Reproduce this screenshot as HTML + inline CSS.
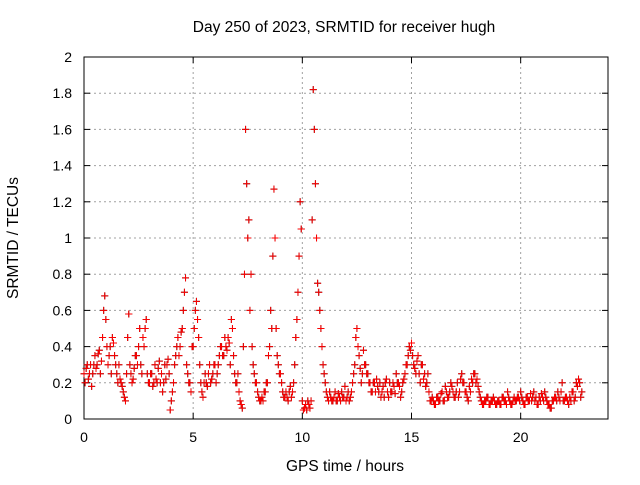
<!DOCTYPE html>
<html><head><meta charset="utf-8"><style>
body{margin:0;background:#fff;}
svg text{font-family:"Liberation Sans",sans-serif;font-size:14px;fill:#000;}
svg text.big{font-size:15.5px;}
</style></head><body>
<svg id="chart" width="640" height="480">
<g id="grid"></g>
<g id="axes"></g>
<g id="marks"></g>
<text class="big" x="344" y="32" text-anchor="middle">Day 250 of 2023, SRMTID for receiver hugh</text>
<text class="big" x="345" y="471" text-anchor="middle">GPS time / hours</text>
<text class="big" x="18" y="238" text-anchor="middle" transform="rotate(-90 18 238)">SRMTID / TECUs</text>
</svg>
<script>
const xTicks=[0,5,10,15,20];
const yTicks=[0,0.2,0.4,0.6,0.8,1,1.2,1.4,1.6,1.8,2];
const yTickLabels=["0","0.2","0.4","0.6","0.8","1","1.2","1.4","1.6","1.8","2"];
const tStart=0, tStep=0.1, tStart2=0.05;
const values=[
0.25,0.28,0.22,0.3,0.25,0.35,0.3,0.38,0.32,0.6,
0.55,0.3,0.4,0.45,0.35,0.25,0.3,0.2,0.15,0.1,
0.45,0.3,0.2,0.28,0.35,0.4,0.3,0.45,0.5,0.25,
0.2,0.25,0.2,0.22,0.28,0.2,0.15,0.3,0.3,0.25,
0.1,0.2,0.35,0.45,0.4,0.5,0.7,0.3,0.2,0.15,
0.4,0.6,0.55,0.3,0.15,0.2,0.2,0.25,0.2,0.25,
0.3,0.25,0.35,0.4,0.35,0.4,0.45,0.3,0.5,0.25,
0.2,0.15,0.08,0.4,1.6,1.0,0.6,0.4,0.25,0.2,
0.12,0.1,0.1,0.15,0.2,0.4,0.5,1.27,0.5,0.3,
0.25,0.15,0.12,0.12,0.15,0.12,0.2,0.45,0.7,1.2,
0.1,0.06,0.05,0.08,0.1,1.82,1.3,0.75,0.6,0.4,
0.25,0.15,0.1,0.12,0.1,0.15,0.1,0.12,0.15,0.12,
0.1,0.15,0.12,0.2,0.3,0.5,0.35,0.2,0.38,0.3,
0.25,0.2,0.15,0.2,0.22,0.15,0.12,0.18,0.2,0.15,
0.2,0.15,0.18,0.25,0.2,0.12,0.2,0.25,0.3,0.4,
0.42,0.3,0.25,0.35,0.2,0.3,0.25,0.2,0.15,0.1,
0.1,0.08,0.12,0.1,0.15,0.1,0.15,0.12,0.2,0.15,
0.12,0.2,0.15,0.25,0.2,0.15,0.1,0.15,0.2,0.25,
0.22,0.15,0.1,0.08,0.1,0.12,0.08,0.1,0.1,0.08,
0.1,0.08,0.12,0.1,0.15,0.1,0.08,0.12,0.1,0.12,
0.15,0.1,0.08,0.12,0.1,0.1,0.15,0.12,0.08,0.1,
0.12,0.15,0.1,0.08,0.06,0.1,0.12,0.15,0.1,0.2,
0.1,0.12,0.08,0.1,0.15,0.12,0.18,0.2,0.15];
const values2=[
0.2,0.3,0.25,0.18,0.3,0.28,0.36,0.25,0.45,0.68,
0.4,0.35,0.25,0.42,0.3,0.2,0.22,0.18,0.12,0.25,
0.58,0.25,0.22,0.35,0.3,0.5,0.25,0.4,0.55,0.2,
0.25,0.18,0.3,0.2,0.32,0.25,0.2,0.22,0.33,0.05,
0.15,0.3,0.4,0.35,0.48,0.6,0.78,0.25,0.2,0.4,
0.5,0.65,0.45,0.2,0.12,0.25,0.18,0.3,0.22,0.3,
0.2,0.3,0.4,0.35,0.45,0.38,0.42,0.55,0.35,0.2,
0.25,0.1,0.06,0.8,1.3,1.1,0.8,0.3,0.2,0.15,
0.1,0.12,0.15,0.2,0.35,0.6,0.9,1.0,0.35,0.25,
0.2,0.12,0.15,0.1,0.18,0.15,0.3,0.55,0.9,1.05,
0.05,0.08,0.1,0.06,1.1,1.6,1.0,0.7,0.5,0.3,
0.2,0.12,0.15,0.1,0.12,0.1,0.14,0.1,0.12,0.18,
0.12,0.1,0.15,0.25,0.45,0.4,0.28,0.25,0.3,0.25,
0.2,0.15,0.2,0.15,0.18,0.2,0.15,0.12,0.22,0.12,
0.15,0.2,0.14,0.2,0.18,0.15,0.22,0.3,0.35,0.38,
0.35,0.28,0.32,0.25,0.3,0.22,0.18,0.25,0.1,0.12,
0.08,0.12,0.1,0.14,0.1,0.18,0.12,0.15,0.18,0.12,
0.15,0.12,0.22,0.2,0.15,0.12,0.18,0.22,0.25,0.2,
0.18,0.12,0.08,0.1,0.12,0.08,0.1,0.12,0.08,0.1,
0.08,0.12,0.1,0.08,0.12,0.08,0.1,0.1,0.12,0.1,
0.12,0.08,0.12,0.1,0.14,0.12,0.1,0.08,0.12,0.14,
0.1,0.12,0.08,0.06,0.1,0.12,0.1,0.12,0.15,0.1,
0.12,0.1,0.12,0.15,0.1,0.2,0.22,0.12];
const L=84,R=608,T=57,B=419,xMax=24,yMax=2;
const sx=v=>L+v/xMax*(R-L), sy=v=>B-v/yMax*(B-T);
const NS="http://www.w3.org/2000/svg";
function mk(tag,attrs,parent){const e=document.createElementNS(NS,tag);for(const k in attrs)e.setAttribute(k,attrs[k]);parent.appendChild(e);return e;}
const grid=document.getElementById('grid'),axes=document.getElementById('axes'),marks=document.getElementById('marks');
xTicks.forEach(t=>{const x=sx(t);
 if(t>0){const g=mk('line',{x1:x,x2:x,y1:T,y2:B,stroke:'#a0a0a0','stroke-dasharray':'2,3'},grid);
 
 }
 mk('line',{x1:x,x2:x,y1:B,y2:B-6,stroke:'#000'},axes);mk('line',{x1:x,x2:x,y1:T,y2:T+6,stroke:'#000'},axes);
 const tx=mk('text',{x:x,y:B+23,'text-anchor':'middle'},axes);tx.textContent=t;
 
 });
yTicks.forEach((t,i)=>{const y=sy(t);
 if(t>0&&t<yMax){const g=mk('line',{x1:L,x2:R,y1:y,y2:y,stroke:'#a0a0a0','stroke-dasharray':'2,3'},grid);
 
 }
 mk('line',{x1:L,x2:L+6,y1:y,y2:y,stroke:'#000'},axes);mk('line',{x1:R,x2:R-6,y1:y,y2:y,stroke:'#000'},axes);
 const tx=mk('text',{x:L-12,y:y+5,'text-anchor':'end'},axes);tx.textContent=yTickLabels[i];
 
 });
const box=mk('rect',{x:L,y:T,width:R-L,height:B-T,fill:'none',stroke:'#000'},axes);


function plus(x,y){return `M${x-3.5},${y}h7M${x},${y-3.5}v7`;}
let dk='',dr='';
values.forEach((v,i)=>{const x=sx(tStart+i*tStep),y=sy(v);dk+=plus(x,y);dr+=plus(x,y);});
values2.forEach((v,i)=>{const x=sx(tStart2+i*tStep),y=sy(v);dk+=plus(x,y);dr+=plus(x,y);});
const pk=mk('path',{d:dk,stroke:'#000','stroke-width':1,fill:'none'},marks);


const pr=mk('path',{d:dr,stroke:'#ff0000','stroke-width':1,fill:'none'},marks);


</script>
</body></html>
